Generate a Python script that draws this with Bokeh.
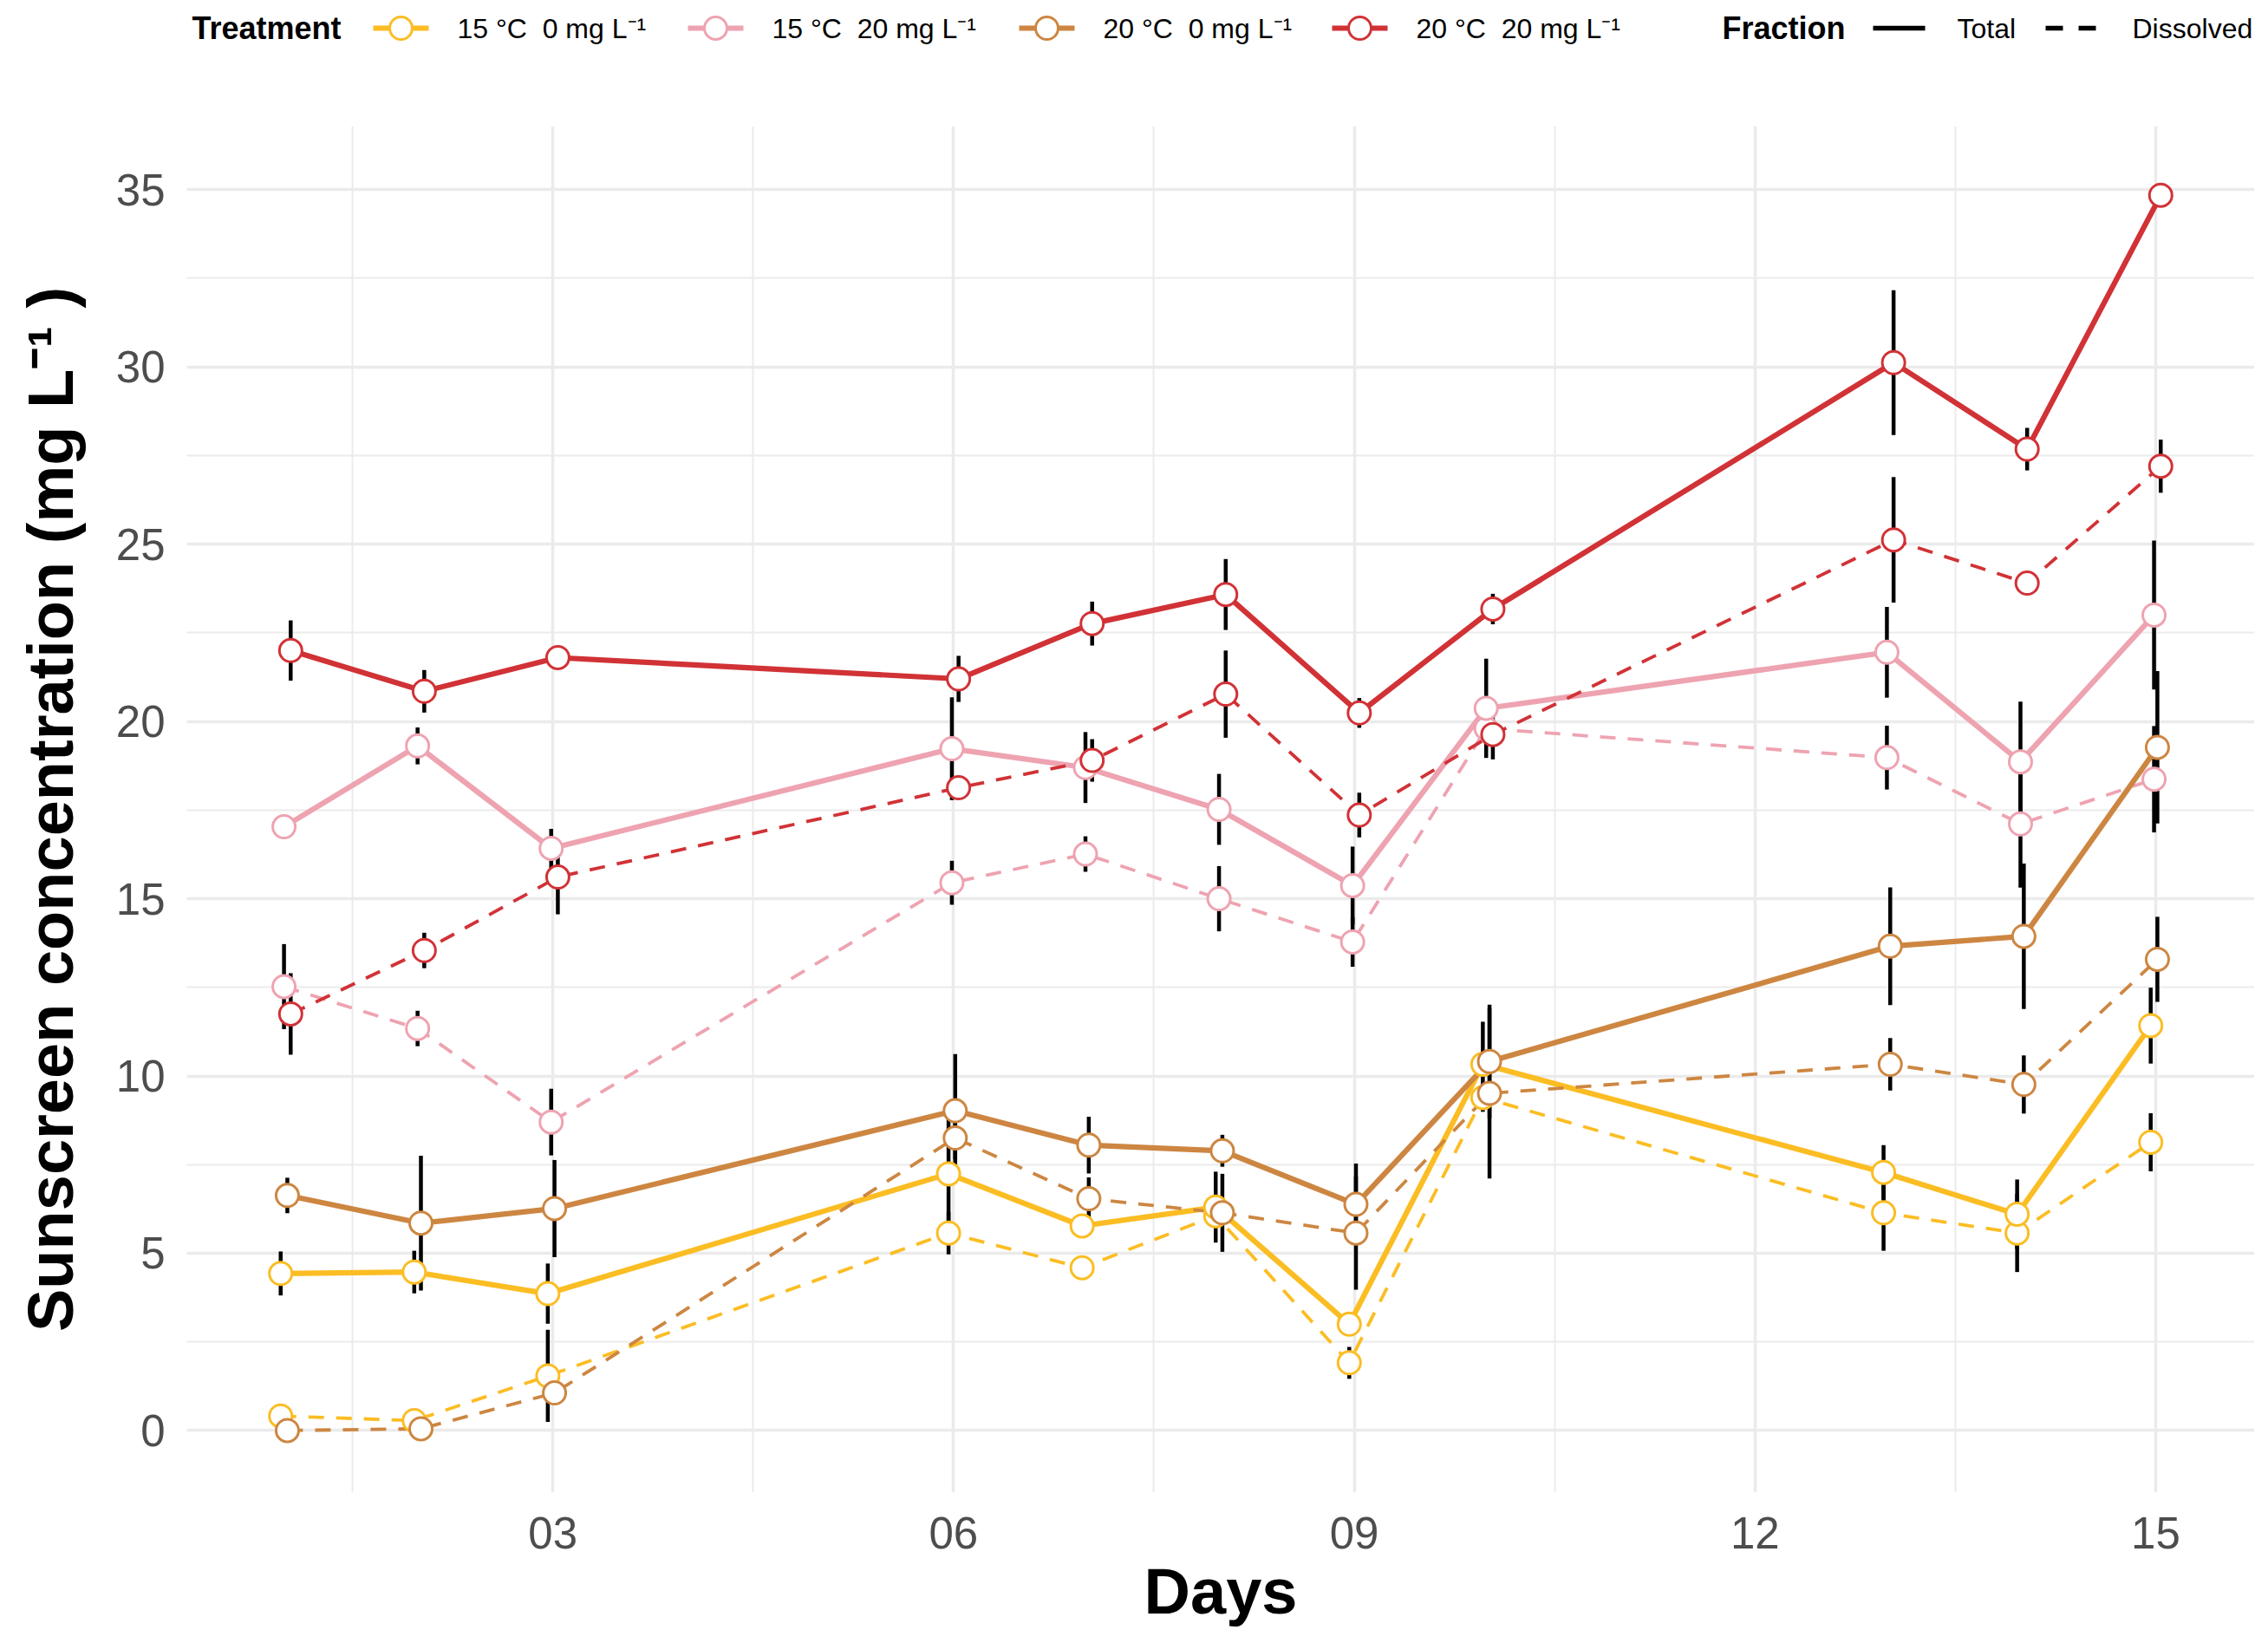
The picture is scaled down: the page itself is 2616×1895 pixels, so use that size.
import numpy as np
from bokeh.plotting import figure
from bokeh.layouts import column
from bokeh.models import Range1d, FixedTicker, ColumnDataSource
from bokeh.embed import file_html
from bokeh.resources import INLINE
from bokeh.core.properties import value

# ---------------- data ----------------
days = [1, 2, 3, 6, 7, 8, 9, 10, 13, 14, 15]

treatments = ["15 °C\u00a0 0 mg L⁻¹", "15 °C\u00a0 20 mg L⁻¹", "20 °C\u00a0 0 mg L⁻¹", "20 °C\u00a0 20 mg L⁻¹"]
colors = ["#FBBD23", "#EEA3B1", "#CD8641", "#D13236"]
fractions = ["Total", "Dissolved"]

t15_0_total = [4.43, 4.47, 3.86, 7.24, 5.77, 6.30, 3.00, 10.33, 7.28, 6.10, 11.42]
t15_0_total_err = [0.62, 0.60, 0.85, 1.70, 0.20, 1.00, 0.20, 1.20, 0.77, 0.98, 1.07]
t15_0_diss = [0.41, 0.28, 1.54, 5.57, 4.59, 6.06, 1.91, 9.39, 6.14, 5.57, 8.13]
t15_0_diss_err = [0.15, 0.15, 1.30, 0.60, 0.20, 0.30, 0.45, 0.40, 1.07, 1.10, 0.82]

t15_20_total = [17.03, 19.31, 16.42, 19.23, 18.70, 17.52, 15.37, 20.37, 21.95, 18.86, 23.00]
t15_20_total_err = [0.20, 0.52, 0.55, 1.45, 1.00, 1.00, 1.10, 1.40, 1.28, 1.70, 2.10]
t15_20_diss = [12.52, 11.34, 8.70, 15.45, 16.26, 15.00, 13.78, 19.80, 18.98, 17.11, 18.37]
t15_20_diss_err = [1.20, 0.50, 0.94, 0.62, 0.50, 0.92, 0.70, 0.50, 0.90, 1.80, 1.50]

t20_0_total = [6.63, 5.85, 6.26, 9.02, 8.05, 7.89, 6.38, 10.41, 13.66, 13.94, 19.27]
t20_0_total_err = [0.50, 1.90, 1.37, 1.60, 0.80, 0.45, 1.15, 1.60, 1.66, 2.05, 2.15]
t20_0_diss = [0.00, 0.05, 1.06, 8.25, 6.54, 6.14, 5.57, 9.51, 10.33, 9.76, 13.29]
t20_0_diss_err = [0.10, 0.10, 0.30, 0.60, 0.60, 1.10, 1.60, 2.40, 0.74, 0.82, 1.20]

t20_20_total = [22.00, 20.85, 21.80, 21.20, 22.76, 23.58, 20.24, 23.17, 30.12, 27.68, 34.84]
t20_20_total_err = [0.85, 0.60, 0.20, 0.65, 0.62, 1.00, 0.42, 0.43, 2.04, 0.60, 0.05]
t20_20_diss = [11.75, 13.54, 15.61, 18.13, 18.90, 20.77, 17.36, 19.63, 25.12, 23.90, 27.20]
t20_20_diss_err = [1.15, 0.50, 1.05, 0.30, 0.60, 1.23, 0.63, 0.70, 1.77, 0.20, 0.75]

x_ticks = [3, 6, 9, 12, 15]
x_tick_labels = ["03", "06", "09", "12", "15"]
y_ticks = [0, 5, 10, 15, 20, 25, 30, 35]

series = [
    (t15_0_total, t15_0_total_err, t15_0_diss, t15_0_diss_err),
    (t15_20_total, t15_20_total_err, t15_20_diss, t15_20_diss_err),
    (t20_0_total, t20_0_total_err, t20_0_diss, t20_0_diss_err),
    (t20_20_total, t20_20_total_err, t20_20_diss, t20_20_diss_err),
]

# ---------------- styling ----------------
FONT = "Liberation Sans"
dodge = [-0.0375, -0.0125, 0.0125, 0.0375]
W = 2600
LEG_H = 65
MAIN_H = 1814
MB_LEFT = 215
MB_RIGHT = 0
grid_col = "#EBEBEB"
dash_plot = "18 14"

# ---------------- main plot ----------------
p = figure(width=W, height=MAIN_H, output_backend="svg", toolbar_location=None,
           x_range=Range1d(0.26, 15.74), y_range=Range1d(-1.75, 36.79),
           min_border_left=MB_LEFT, min_border_right=MB_RIGHT, min_border_top=80,
           min_border_bottom=140)
p.outline_line_color = None
p.background_fill_color = "white"
p.border_fill_color = "white"

p.xaxis.ticker = FixedTicker(ticks=x_ticks, minor_ticks=[1.5, 4.5, 7.5, 10.5, 13.5])
p.xaxis.major_label_overrides = {t: l for t, l in zip(x_ticks, x_tick_labels)}
p.yaxis.ticker = FixedTicker(ticks=y_ticks, minor_ticks=[2.5 + 5 * i for i in range(7)])

for ax in (p.xaxis[0], p.yaxis[0]):
    ax.axis_line_color = None
    ax.major_tick_line_color = None
    ax.minor_tick_line_color = None
    ax.major_tick_out = 0
    ax.major_tick_in = 0
    ax.minor_tick_out = 0
    ax.major_label_text_font = FONT
    ax.major_label_text_font_size = "51px"
    ax.major_label_text_color = "#4D4D4D"
    ax.axis_label_text_font = FONT
    ax.axis_label_text_font_size = "74px"
    ax.axis_label_text_font_style = "bold"
    ax.axis_label_text_color = "black"

p.xaxis.axis_label = "Days"
p.yaxis.axis_label = "Sunscreen concentration (mg L⁻¹ )"
p.xaxis.major_label_standoff = 28
p.xaxis.axis_label_standoff = 5
p.yaxis.major_label_standoff = 25
p.yaxis.axis_label_standoff = 31

for g in (p.xgrid[0], p.ygrid[0]):
    g.grid_line_color = grid_col
    g.grid_line_width = 3.5
    g.minor_grid_line_color = grid_col
    g.minor_grid_line_width = 2

# error bars
for i, (tot, tot_e, dis, dis_e) in enumerate(series):
    x = np.array(days, dtype=float) + dodge[i]
    for m, e in ((tot, tot_e), (dis, dis_e)):
        m = np.array(m); e = np.array(e)
        src = ColumnDataSource(dict(x=x, lo=m - e, hi=m + e))
        p.segment(x0="x", y0="lo", x1="x", y1="hi", source=src, line_color="black", line_width=4.5)

# lines
for i, (tot, tot_e, dis, dis_e) in enumerate(series):
    x = np.array(days, dtype=float) + dodge[i]
    p.line(x, dis, line_color=colors[i], line_width=3.8, line_dash=dash_plot)
    p.line(x, tot, line_color=colors[i], line_width=6.2)

# points
for i, (tot, tot_e, dis, dis_e) in enumerate(series):
    x = np.array(days, dtype=float) + dodge[i]
    p.scatter(x, dis, marker="circle", size=26, fill_color="white", line_color=colors[i], line_width=3)
    p.scatter(x, tot, marker="circle", size=26, fill_color="white", line_color=colors[i], line_width=3)

# ---------------- legend strip ----------------
# same horizontal borders as the main plot, x range expressed in picture pixels
fl = 8 + MB_LEFT - 7
fr = 8 + W - MB_RIGHT - 7
lg = figure(width=W, height=LEG_H, output_backend="svg", toolbar_location=None,
            x_range=Range1d(fl, fr), y_range=Range1d(0, LEG_H),
            min_border_left=MB_LEFT, min_border_right=MB_RIGHT, min_border_top=0, min_border_bottom=0)
lg.axis.visible = False
lg.grid.visible = False
lg.outline_line_color = None
lg.background_fill_color = "white"
lg.border_fill_color = "white"

yc = 33
key_x0 = [431, 794, 1176, 1537]
key_w = 64
lab_fs = "32px"
lg.text(x=[222], y=[yc], text=["Treatment"], text_font=value(FONT), text_font_size="36px",
        text_font_style="bold", text_baseline="middle", text_align="left", text_color="black")
for i, lab in enumerate(treatments):
    x0 = key_x0[i]
    lg.segment(x0=[x0], y0=[yc], x1=[x0 + key_w], y1=[yc], line_color=colors[i], line_width=6)
    lg.scatter([x0 + key_w / 2], [yc], marker="circle", size=26, fill_color="white",
               line_color=colors[i], line_width=3)
    lg.text(x=[x0 + 97], y=[yc], text=[lab], text_font=value(FONT), text_font_size=lab_fs,
            text_baseline="middle", text_align="left", text_color="black")

lg.text(x=[1987], y=[yc], text=["Fraction"], text_font=value(FONT), text_font_size="36px",
        text_font_style="bold", text_baseline="middle", text_align="left", text_color="black")
frac_x0 = [2161, 2360]
frac_dash = ["solid", "20 18"]
frac_lab_x = [2258, 2460]
for j, lab in enumerate(fractions):
    lg.segment(x0=[frac_x0[j]], y0=[yc], x1=[frac_x0[j] + 60], y1=[yc], line_color="black",
               line_width=5.5, line_dash=frac_dash[j])
    lg.text(x=[frac_lab_x[j]], y=[yc], text=[lab], text_font=value(FONT), text_font_size="32px",
            text_baseline="middle", text_align="left", text_color="black")

layout = column(lg, p, spacing=0)
open("out.html", "w").write(file_html(layout, INLINE))
